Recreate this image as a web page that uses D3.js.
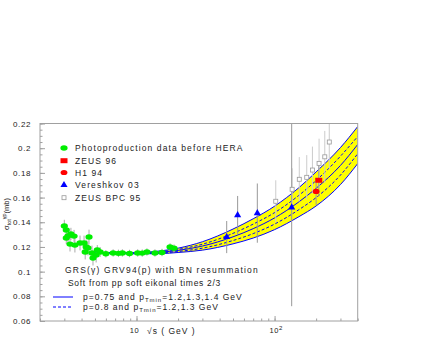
<!DOCTYPE html>
<html>
<head>
<meta charset="utf-8">
<script src="https://cdn.jsdelivr.net/npm/d3@7"></script>
<style>
  body { margin: 0; background: #fff; }
  text { font-family: "Liberation Sans", Arial, sans-serif; fill: #222; }
</style>
</head>
<body>
<svg id="chart" width="429" height="346"></svg>
<script>
// --- data ---
const yTicks = [0.06, 0.08, 0.1, 0.12, 0.14, 0.16, 0.18, 0.2, 0.22];

// photoproduction data before HERA
const lowSqrtS = [3.0, 3.1, 3.19, 3.35, 3.53, 3.1, 3.3, 3.58, 3.9, 4.17, 4.53, 4.32, 4.25, 4.45, 4.76, 5.1, 4.84, 5.45, 5.2, 6.0, 6.77, 7.4, 7.9, 8.9, 10.2, 11.0, 11.9, 13.6, 15.3, 17.5, 18.7];
const lowSigma  = [0.137, 0.1337, 0.129, 0.1305, 0.1288, 0.1272, 0.1223, 0.1215, 0.1232, 0.1232, 0.128, 0.120, 0.1159, 0.1191, 0.1151, 0.1134, 0.111, 0.1159, 0.1175, 0.1145, 0.1151, 0.1148, 0.1151, 0.1147, 0.1151, 0.1150, 0.1159, 0.1151, 0.1155, 0.120, 0.119];
const lowErr    = [0.005, 0.005, 0.005, 0.005, 0.005, 0.005, 0.006, 0.006, 0.006, 0.006, 0.006, 0.006, 0.006, 0.006, 0.006, 0.006, 0.006, 0.004, 0.004, 0.003, 0.003, 0.003, 0.003, 0.003, 0.003, 0.003, 0.003, 0.003, 0.003, 0.003, 0.003];

const zeus96 = { sqrtS: 209, sigma: 0.174, err: 0.013 };
const h194   = { sqrtS: 200, sigma: 0.165, err: 0.011 };

const vereshSqrtS = [45, 54, 75, 133];
const vereshSigma = [0.128, 0.1458, 0.1474, 0.152];
const vereshErr   = [0.013, 0.0155, 0.024, 0.08];

const bpcSqrtS = [102, 134, 151, 171, 188, 210, 231, 249];
const bpcSigma = [0.157, 0.1667, 0.1748, 0.1764, 0.1823, 0.1877, 0.193, 0.205];
const bpcErr   = [0.017, 0.017, 0.018, 0.018, 0.019, 0.02, 0.021, 0.022];

// model curves
const curveSqrtS = [5, 7, 10, 15, 20, 30, 50, 70, 100, 150, 200, 300, 400];
const solid12 = [0.1160, 0.1153, 0.1154, 0.1168, 0.1190, 0.1242, 0.1345, 0.1428, 0.1530, 0.1680, 0.1808, 0.2005, 0.2175];
const solid13 = [0.1160, 0.1150, 0.1149, 0.1157, 0.1172, 0.1207, 0.1282, 0.1348, 0.1435, 0.1565, 0.1675, 0.1860, 0.2030];
const solid14 = [0.1160, 0.1147, 0.1144, 0.1146, 0.1155, 0.1174, 0.1225, 0.1272, 0.1340, 0.1445, 0.1532, 0.1705, 0.1875];
const dash12  = [0.1160, 0.1152, 0.1152, 0.1162, 0.1180, 0.1222, 0.1310, 0.1385, 0.1478, 0.1618, 0.1738, 0.1935, 0.2095];
const dash13  = [0.1160, 0.1148, 0.1146, 0.1151, 0.1163, 0.1190, 0.1252, 0.1308, 0.1385, 0.1502, 0.1600, 0.1782, 0.1955];

const legendLabels = ["Photoproduction data before HERA", "ZEUS 96", "H1 94", "Vereshkov 03", "ZEUS BPC 95"];

// --- drawing ---
const svg = d3.select("#chart");
const mLeft = 40, mRight = 357.7, mTop = 123.5, mBottom = 321;

const x = d3.scaleLog().domain([2, 400]).range([mLeft, mRight]);
const y = d3.scaleLinear().domain([0.06, 0.22]).range([mBottom, mTop]);

svg.append("defs").append("clipPath").attr("id", "plot")
  .append("rect").attr("x", mLeft).attr("y", mTop)
  .attr("width", mRight - mLeft).attr("height", mBottom - mTop);

const plot = svg.append("g").attr("clip-path", "url(#plot)");

// band
const pts = a => curveSqrtS.map((s, i) => [s, a[i]]);
const area = d3.area()
  .x((d, i) => x(curveSqrtS[i]))
  .y0((d, i) => y(solid14[i]))
  .y1((d, i) => y(solid12[i]))
  .curve(d3.curveMonotoneX);
plot.append("path").datum(curveSqrtS).attr("d", area).attr("fill", "#ffff00");

const line = d3.line().x(d => x(d[0])).y(d => y(d[1])).curve(d3.curveMonotoneX);
[solid12, solid13, solid14].forEach(a => {
  plot.append("path").datum(pts(a)).attr("d", line)
    .attr("fill", "none").attr("stroke", "#0000ff").attr("stroke-width", 1);
});
[dash12, dash13].forEach(a => {
  plot.append("path").datum(pts(a)).attr("d", line)
    .attr("fill", "none").attr("stroke", "#0000ff").attr("stroke-width", 1)
    .attr("stroke-dasharray", "3,2");
});

// error bars
function errBars(sx, sy, se, color) {
  plot.append("g").selectAll("line").data(sx).join("line")
    .attr("x1", d => x(d)).attr("x2", d => x(d))
    .attr("y1", (d, i) => y(sy[i] - se[i]))
    .attr("y2", (d, i) => y(sy[i] + se[i]))
    .attr("stroke", color).attr("stroke-width", 1);
}
errBars(lowSqrtS, lowSigma, lowErr, "#aaaaaa");
errBars(bpcSqrtS, bpcSigma, bpcErr, "#cccccc");
errBars(vereshSqrtS, vereshSigma, vereshErr, "#999999");
errBars([zeus96.sqrtS, h194.sqrtS], [zeus96.sigma, h194.sigma], [zeus96.err, h194.err], "#999999");

// markers
const tri = d3.symbol().type(d3.symbolTriangle).size(22);
function drawMarker(g, kind, cx, cy) {
  if (kind === 0) g.append("ellipse").attr("cx", cx).attr("cy", cy).attr("rx", 3.6).attr("ry", 2.7).attr("fill", "#00ee00");
  if (kind === 1) g.append("rect").attr("x", cx - 3.5).attr("y", cy - 2.5).attr("width", 7).attr("height", 5).attr("fill", "#ff0000");
  if (kind === 2) g.append("ellipse").attr("cx", cx).attr("cy", cy).attr("rx", 3.4).attr("ry", 2.6).attr("fill", "#ff0000");
  if (kind === 3) g.append("path").attr("d", tri).attr("transform", `translate(${cx},${cy})`).attr("fill", "#0000ff");
  if (kind === 4) g.append("rect").attr("x", cx - 2).attr("y", cy - 2).attr("width", 4).attr("height", 4).attr("fill", "#fff").attr("stroke", "#999").attr("stroke-width", 0.8);
}
const mk = plot.append("g");
lowSqrtS.forEach((s, i) => drawMarker(mk, 0, x(s), y(lowSigma[i])));
bpcSqrtS.forEach((s, i) => drawMarker(mk, 4, x(s), y(bpcSigma[i])));
vereshSqrtS.forEach((s, i) => drawMarker(mk, 3, x(s), y(vereshSigma[i])));
drawMarker(mk, 1, x(zeus96.sqrtS), y(zeus96.sigma));
drawMarker(mk, 2, x(h194.sqrtS), y(h194.sigma));

// frame
svg.append("rect").attr("x", mLeft).attr("y", mTop)
  .attr("width", mRight - mLeft).attr("height", mBottom - mTop)
  .attr("fill", "none").attr("stroke", "#a0a0a0").attr("stroke-width", 1);

// y axis: ticks inside
const yAxis = svg.append("g").attr("transform", `translate(${mLeft},0)`);
yAxis.call(d3.axisRight(y).tickValues(d3.range(0.06, 0.2201, 0.005)).tickSize(2.5).tickFormat(""))
  .call(g => g.select(".domain").remove())
  .call(g => g.selectAll("line").attr("stroke", "#a0a0a0"));
yAxis.append("g").call(d3.axisRight(y).tickValues(yTicks).tickSize(5).tickFormat(""))
  .call(g => g.select(".domain").remove())
  .call(g => g.selectAll("line").attr("stroke", "#a0a0a0"));
yTicks.forEach(v => {
  svg.append("text").attr("x", 31).attr("y", y(v) + 3).attr("text-anchor", "end")
    .attr("font-size", 8).attr("letter-spacing", 0.6).text(String(+v.toFixed(2)));
});

// x axis: log ticks inside
const xMinor = x.ticks().filter(v => v >= 2 && v <= 400);
const xAxis = svg.append("g").attr("transform", `translate(0,${mBottom})`);
xAxis.call(d3.axisTop(x).tickValues(xMinor).tickSize(2.5).tickFormat(""))
  .call(g => g.select(".domain").remove())
  .call(g => g.selectAll("line").attr("stroke", "#a0a0a0"));
xAxis.append("g").call(d3.axisTop(x).tickValues([10, 100]).tickSize(5).tickFormat(""))
  .call(g => g.select(".domain").remove())
  .call(g => g.selectAll("line").attr("stroke", "#a0a0a0"));

svg.append("text").attr("x", x(10) - 2).attr("y", 333).attr("text-anchor", "middle")
  .attr("font-size", 7.5).attr("letter-spacing", 0.5).text("10");
const t2 = svg.append("text").attr("x", x(100) - 5).attr("y", 333).attr("text-anchor", "start")
  .attr("font-size", 7.5).attr("letter-spacing", 0.5);
t2.append("tspan").text("10");
t2.append("tspan").attr("dy", -3).attr("font-size", 6).text("2");

svg.append("text").attr("x", 147).attr("y", 334).attr("font-size", 8.5).attr("letter-spacing", 1)
  .text("\u221As ( GeV )");

// y title
const yt = svg.append("text").attr("transform", "translate(9,230) rotate(-90)")
  .attr("font-size", 7.5);
yt.append("tspan").text("\u03C3");
yt.append("tspan").attr("font-size", 5.5).attr("dy", 2).text("tot");
yt.append("tspan").attr("font-size", 5.5).attr("dy", -5).text("\u03B3p");
yt.append("tspan").attr("dy", 3).text("(mb)");

// legend (data)
const lg = svg.append("g");
const legY = [148, 160.7, 172.5, 185, 197.7];
legendLabels.forEach((t, i) => {
  drawMarker(lg, i, 64, legY[i]);
  lg.append("text").attr("x", 75).attr("y", legY[i] + 3).attr("font-size", 8.5)
    .attr("letter-spacing", 1.1).text(t);
});

// model text and legend
svg.append("text").attr("x", 65).attr("y", 273).attr("font-size", 8.5).attr("letter-spacing", 1.2)
  .text("GRS(\u03B3) GRV94(p) with BN resummation");
svg.append("text").attr("x", 68).attr("y", 285.5).attr("font-size", 8.5).attr("letter-spacing", 0.7)
  .text("Soft from pp soft eikonal times 2/3");

svg.append("line").attr("x1", 53).attr("x2", 73).attr("y1", 297).attr("y2", 297)
  .attr("stroke", "#0000ff").attr("stroke-width", 1);
svg.append("line").attr("x1", 53).attr("x2", 73).attr("y1", 307).attr("y2", 307)
  .attr("stroke", "#0000ff").attr("stroke-width", 1).attr("stroke-dasharray", "3,2");

function ptLegend(yy, pre, post) {
  const t = svg.append("text").attr("x", 83).attr("y", yy).attr("font-size", 8.5).attr("letter-spacing", 1);
  t.append("tspan").text(pre + "p");
  t.append("tspan").attr("font-size", 6).attr("dy", 2).text("Tmin");
  t.append("tspan").attr("dy", -2).text(post);
}
ptLegend(300, "p=0.75 and ", "=1.2,1.3,1.4 GeV");
ptLegend(310, "p=0.8 and ", "=1.2,1.3 GeV");
</script>
</body>
</html>
